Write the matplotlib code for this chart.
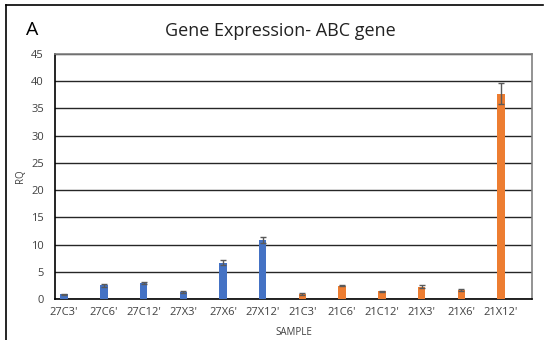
import matplotlib.pyplot as plt
from matplotlib.lines import Line2D

samples = ["27C3'", "27C6'", "27C12'", "27X3'", "27X6'", "27X12'",
           "21C3'", "21C6'", "21C12'", "21X3'", "21X6'", "21X12'"]
rq = [0.85, 2.5, 2.95, 1.25, 6.7, 10.8,
      0.95, 2.4, 1.45, 2.25, 1.65, 37.7]
err = [0.15, 0.3, 0.15, 0.15, 0.4, 0.6,
       0.15, 0.1, 0.1, 0.25, 0.1, 1.9]
colors = ['#4472C4'] * 6 + ['#ED7D31'] * 6

plt.rcParams['font.family'] = ['Open Sans', 'DejaVu Sans']

fig = plt.figure(figsize=(5.47, 3.4), dpi=100)
ax = fig.add_axes([55 / 547, 1 - 299 / 340, (532 - 55) / 547, (299 - 54) / 340])

x = list(range(len(samples)))
ax.bar(x, rq, width=0.19, color=colors, zorder=3)
ax.errorbar(x, rq, yerr=err, fmt='none', ecolor='#595959', elinewidth=1,
            capsize=2.5, capthick=1, zorder=4)

ax.set_xlim(-0.23, 11.78)
ax.set_ylim(0, 45)
ax.set_yticks(range(0, 46, 5))
ax.grid(axis='y', color='#262626', linewidth=1, zorder=0)
ax.set_xticks(x)
ax.set_xticklabels(samples, fontsize=8, color='#404040')
ax.tick_params(axis='y', labelsize=8, labelcolor='#404040', length=0, pad=8)
ax.tick_params(axis='x', length=0, pad=6)

for side in ['top', 'right']:
    ax.spines[side].set_color('#808080')
    ax.spines[side].set_linewidth(1.2)
ax.spines['left'].set_color('black')
ax.spines['bottom'].set_color('black')
ax.spines['left'].set_linewidth(1.2)
ax.spines['bottom'].set_linewidth(1.2)

ax.set_xlabel('SAMPLE', fontsize=7, color='#404040', labelpad=6)
ax.set_ylabel('RQ', fontsize=7, color='#404040', labelpad=4)

fig.text(280 / 547, 1 - 31 / 340, 'Gene Expression- ABC gene', fontsize=13,
         ha='center', va='center', color='#222222')
fig.text(32 / 547, 1 - 30 / 340, 'A', fontsize=14, ha='center', va='center')

# outer frame lines (top and left)
fig.add_artist(Line2D([6 / 547, 543 / 547], [1 - 5 / 340, 1 - 5 / 340],
                      color='black', linewidth=1.2, transform=fig.transFigure))
fig.add_artist(Line2D([6 / 547, 6 / 547], [1 - 5 / 340, 0],
                      color='black', linewidth=1.2, transform=fig.transFigure))

fig.savefig('out.png', dpi=100)
